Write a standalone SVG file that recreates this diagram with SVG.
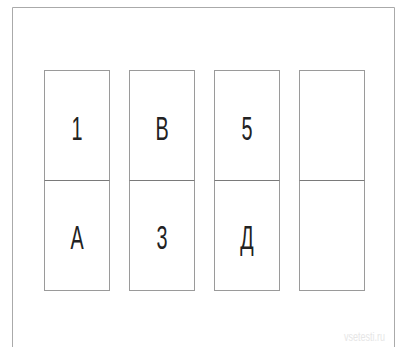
<svg xmlns="http://www.w3.org/2000/svg" width="396" height="347" viewBox="0 0 396 347">
<style>
.cell{fill:#fff;stroke:#9a9a9a;stroke-width:1}
.div{stroke:#7a7a7a;stroke-width:1.2}
.lbl{font-family:"Liberation Sans",Arial,sans-serif;font-size:33px;fill:#222;text-anchor:middle}
.wm{font-family:"Liberation Sans",Arial,sans-serif;font-size:12px;fill:#e6e6e6;text-anchor:middle}
</style>
<rect x="0" y="0" width="396" height="347" fill="#fff"/>
<path d="M12.5 347 V7.5 H394.5 V347" fill="none" stroke="#aaa" stroke-width="1"/>
<g id="col1">
<rect class="cell" x="44.5" y="70.5" width="65" height="220"/>
<line class="div" x1="44.5" y1="180.5" x2="109.5" y2="180.5"/>
<text class="lbl" transform="translate(77,140) scale(0.6,1)">1</text>
<text class="lbl" transform="translate(77,249) scale(0.6,1)">А</text>
</g>
<g id="col2">
<rect class="cell" x="129.5" y="70.5" width="65" height="220"/>
<line class="div" x1="129.5" y1="180.5" x2="194.5" y2="180.5"/>
<text class="lbl" transform="translate(162,140) scale(0.6,1)">В</text>
<text class="lbl" transform="translate(162,249) scale(0.6,1)">3</text>
</g>
<g id="col3">
<rect class="cell" x="214.5" y="70.5" width="65" height="220"/>
<line class="div" x1="214.5" y1="180.5" x2="279.5" y2="180.5"/>
<text class="lbl" transform="translate(247,140) scale(0.6,1)">5</text>
<text class="lbl" transform="translate(247,249) scale(0.6,1)">Д</text>
</g>
<g id="col4">
<rect class="cell" x="299.5" y="70.5" width="65" height="220"/>
<line class="div" x1="299.5" y1="180.5" x2="364.5" y2="180.5"/>
</g>
<g id="connectors"/>
<text class="wm" transform="translate(364.5,341) scale(0.75,1)">vsetesti.ru</text>
</svg>
